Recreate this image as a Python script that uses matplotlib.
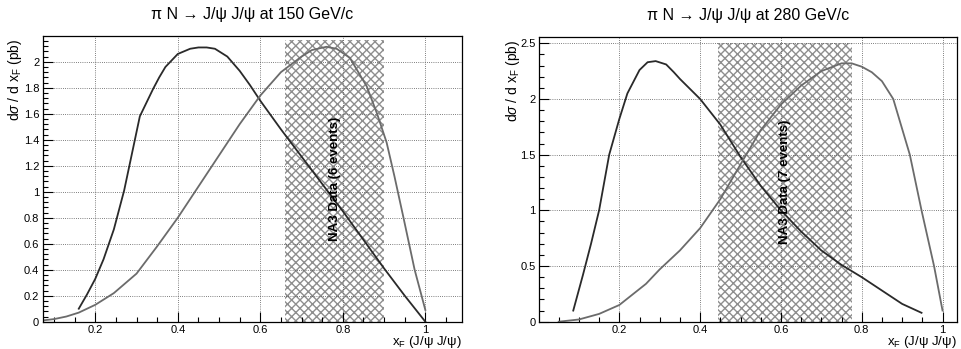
import matplotlib
matplotlib.use("Agg")
import matplotlib.pyplot as plt
from matplotlib.ticker import MultipleLocator, FormatStrFormatter

plt.rcParams['font.family'] = ['Liberation Sans', 'DejaVu Sans']
plt.rcParams['mathtext.fontset'] = 'custom'
plt.rcParams['mathtext.rm'] = 'Liberation Sans'
plt.rcParams['mathtext.it'] = 'Liberation Sans:italic'
plt.rcParams['hatch.linewidth'] = 1.0

# --- 150 GeV/c ---
x150_dark = [0.16, 0.18, 0.20, 0.22, 0.245, 0.27, 0.296, 0.308, 0.34, 0.355, 0.37,
             0.40, 0.43, 0.45, 0.47, 0.49, 0.52, 0.55, 0.575, 0.60, 0.65, 0.70,
             0.75, 0.80, 0.85, 0.90, 0.95, 1.00]
y150_dark = [0.10, 0.21, 0.33, 0.48, 0.71, 1.01, 1.40, 1.58, 1.79, 1.88, 1.96,
             2.06, 2.10, 2.11, 2.11, 2.10, 2.04, 1.93, 1.82, 1.70, 1.48, 1.27,
             1.06, 0.85, 0.63, 0.41, 0.20, 0.00]
x150_gray = [0.073, 0.10, 0.13, 0.16, 0.20, 0.245, 0.30, 0.35, 0.40, 0.45, 0.50,
             0.55, 0.60, 0.65, 0.70, 0.725, 0.76, 0.785, 0.817, 0.858, 0.883,
             0.906, 0.925, 0.947, 0.974, 1.00]
y150_gray = [0.01, 0.02, 0.04, 0.07, 0.13, 0.22, 0.37, 0.58, 0.80, 1.04, 1.28,
             1.52, 1.74, 1.92, 2.04, 2.09, 2.115, 2.10, 2.03, 1.81, 1.60,
             1.38, 1.12, 0.80, 0.40, 0.09]
na3_150 = (0.66, 0.90)
na3_150_label = "NA3 Data (6 events)"

# --- 280 GeV/c ---
x280_dark = [0.086, 0.11, 0.13, 0.15, 0.175, 0.20, 0.22, 0.25, 0.27, 0.29, 0.316,
             0.335, 0.35, 0.40, 0.45, 0.50, 0.55, 0.60, 0.65, 0.70, 0.75, 0.80,
             0.85, 0.90, 0.948]
y280_dark = [0.10, 0.42, 0.70, 1.00, 1.50, 1.82, 2.05, 2.26, 2.33, 2.34, 2.31,
             2.24, 2.18, 2.00, 1.77, 1.48, 1.22, 1.00, 0.81, 0.64, 0.51, 0.40,
             0.28, 0.16, 0.08]
x280_gray = [0.05, 0.10, 0.15, 0.20, 0.266, 0.30, 0.35, 0.40, 0.45, 0.506, 0.55,
             0.60, 0.65, 0.70, 0.75, 0.775, 0.80, 0.825, 0.85, 0.878, 0.919,
             0.948, 0.979, 1.00]
y280_gray = [0.00, 0.02, 0.07, 0.15, 0.34, 0.47, 0.64, 0.84, 1.10, 1.45, 1.72,
             1.95, 2.12, 2.25, 2.32, 2.32, 2.29, 2.24, 2.16, 2.00, 1.50,
             1.00, 0.50, 0.10]
na3_280 = (0.445, 0.777)
na3_280_label = "NA3 Data (7 events)"

DARK = '#2a2a2a'
GRAY = '#6b6b6b'

fig = plt.figure(figsize=(9.61, 3.49), dpi=100)
axL = fig.add_axes([0.0444, 0.0782, 0.4360, 0.8186])
axR = fig.add_axes([0.5612, 0.0782, 0.4343, 0.8150])


def style(ax, xlim, ylim, ymaj, ymin):
    ax.set_xlim(*xlim)
    ax.set_ylim(*ylim)
    ax.xaxis.set_major_locator(MultipleLocator(0.2))
    ax.xaxis.set_minor_locator(MultipleLocator(0.05))
    ax.yaxis.set_major_locator(MultipleLocator(ymaj))
    ax.yaxis.set_minor_locator(MultipleLocator(ymin))
    ax.xaxis.set_major_formatter(FormatStrFormatter('%g'))
    ax.yaxis.set_major_formatter(FormatStrFormatter('%g'))
    ax.tick_params(which='both', direction='in', top=False, right=False,
                   labelsize=8, width=0.8)
    ax.tick_params(which='major', length=7)
    ax.tick_params(which='minor', length=3.5)
    ax.tick_params(axis='y', pad=2.5)
    ax.tick_params(axis='x', pad=2.5)
    for s in ax.spines.values():
        s.set_linewidth(0.9)
    ax.set_axisbelow(True)
    ax.grid(True, which='major', color='#555555', lw=0.6, linestyle=(0, (1, 1.6)))


def panel(ax, xd, yd, xg, yg, band, band_top, label, label_xy, title):
    ax.fill_between(list(band), 0, band_top, facecolor='white', edgecolor='#8e8e8e',
                    hatch='xxxx', linewidth=0, zorder=0.3)
    ax.plot(xd, yd, color=DARK, lw=1.3, zorder=2, solid_joinstyle='round')
    ax.plot(xg, yg, color=GRAY, lw=1.3, zorder=2, solid_joinstyle='round')
    ax.text(label_xy[0], label_xy[1], label, rotation=90, ha='center', va='center',
            fontsize=9.5, fontweight='bold', zorder=3)
    ax.text(0.5, 1.077, title, transform=ax.transAxes, ha='center', va='center',
            fontsize=11.5)
    ax.text(1.0, -0.072, r'x$_{\mathrm{F}}$ (J/ψ J/ψ)', transform=ax.transAxes,
            ha='right', va='center', fontsize=9.5)


style(axL, (0.0725, 1.088), (0, 2.198), 0.2, 0.04)
style(axR, (0.002, 1.035), (0, 2.554), 0.5, 0.1)

panel(axL, x150_dark, y150_dark, x150_gray, y150_gray, na3_150, 2.17,
      na3_150_label, (0.781, 1.10), 'π N → J/ψ J/ψ at 150 GeV/c')
panel(axR, x280_dark, y280_dark, x280_gray, y280_gray, na3_280, 2.5,
      na3_280_label, (0.609, 1.26), 'π N → J/ψ J/ψ at 280 GeV/c')

axL.text(-0.066, 0.99, r'd$\sigma$ / d x$_{\mathrm{F}}$ (pb)', transform=axL.transAxes,
         rotation=90, ha='center', va='top', fontsize=10)
axR.text(-0.063, 0.99, r'd$\sigma$ / d x$_{\mathrm{F}}$ (pb)', transform=axR.transAxes,
         rotation=90, ha='center', va='top', fontsize=10)

fig.savefig('out.png', dpi=100)
